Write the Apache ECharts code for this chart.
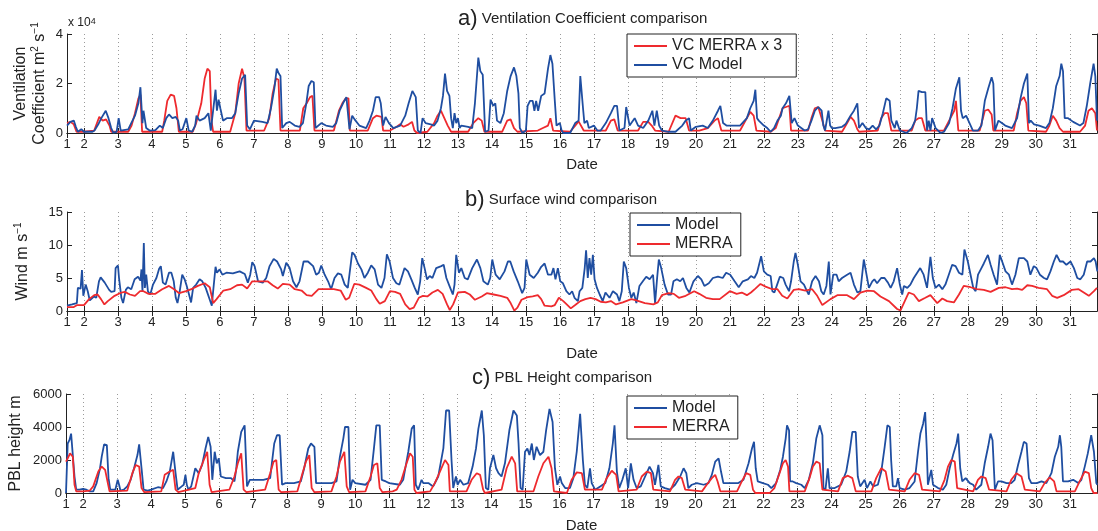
<!DOCTYPE html>
<html>
<head>
<meta charset="utf-8">
<script src="https://cdn.jsdelivr.net/npm/echarts@6/dist/echarts.min.js"></script>
<style>html,body{margin:0;background:#fff}#main{width:1098px;height:531px}</style>
</head>
<body>
<div id="main"></div>
<script>
// x tick positions (day of month); first tick sits at the axis start and is labelled "1"
var xTicks = [1.5,2,3,4,5,6,7,8,9,10,11,12,13,14,15,16,17,18,19,20,21,22,23,24,25,26,27,28,29,30,31];

// a) ventilation coefficient, units of 10^4 m2 s-1, [day, value]
var vcModel = [[1.5,0.3],[1.6,0.45],[1.7,0.5],[1.76,0.25],[1.82,0.05],[1.92,0.15],[2.0,0.05],[2.25,0.05],[2.31,0.1],[2.42,0.35],[2.51,0.6],[2.64,0.9],[2.72,0.6],[2.8,0.2],[2.86,0.02],[2.96,0.05],[3.02,0.6],[3.08,0.1],[3.3,0.15],[3.39,0.4],[3.5,0.7],[3.6,1.2],[3.66,1.85],[3.72,0.4],[3.75,0.9],[3.83,0.2],[3.93,0.1],[4.1,0.12],[4.23,0.3],[4.32,0.2],[4.42,0.6],[4.5,0.75],[4.6,0.6],[4.7,0.65],[4.77,0.5],[4.82,0.1],[4.9,0.15],[5.01,0.6],[5.08,0.1],[5.18,0.05],[5.27,0.3],[5.31,0.7],[5.4,0.5],[5.55,0.6],[5.66,0.8],[5.73,0.1],[5.87,1.75],[5.91,0.9],[5.96,1.35],[6.01,1.0],[6.09,0.5],[6.2,0.6],[6.35,0.6],[6.45,0.8],[6.55,1.6],[6.65,2.2],[6.74,2.35],[6.8,0.3],[6.88,0.15],[7.0,0.5],[7.05,0.55],[7.25,0.45],[7.4,0.4],[7.5,1.0],[7.6,1.8],[7.67,2.6],[7.73,2.4],[7.78,2.3],[7.83,0.2],[7.95,0.4],[8.05,0.45],[8.2,0.3],[8.34,0.25],[8.44,0.4],[8.54,1.2],[8.61,1.9],[8.69,2.1],[8.76,2.05],[8.81,0.2],[8.98,0.4],[9.12,0.3],[9.32,0.25],[9.42,0.4],[9.52,0.9],[9.62,1.2],[9.72,1.45],[9.77,1.5],[9.81,0.15],[9.89,0.7],[9.96,0.55],[10.1,0.3],[10.3,0.2],[10.4,0.5],[10.5,0.9],[10.58,1.45],[10.68,1.45],[10.73,1.2],[10.8,0.3],[10.87,0.65],[10.97,0.4],[11.1,0.2],[11.3,0.3],[11.45,0.7],[11.55,1.2],[11.66,1.7],[11.76,1.45],[11.82,0.1],[11.9,0.0],[11.96,0.6],[12.05,0.4],[12.2,0.35],[12.3,0.3],[12.4,0.5],[12.5,1.0],[12.56,1.5],[12.62,2.4],[12.68,1.7],[12.75,1.5],[12.8,0.6],[12.85,0.2],[12.9,0.8],[12.95,0.4],[13.0,0.6],[13.05,0.2],[13.1,0.3],[13.3,0.25],[13.42,0.2],[13.5,1.2],[13.6,3.05],[13.66,2.5],[13.73,2.35],[13.8,0.05],[13.9,0.1],[13.96,1.35],[14.04,1.1],[14.1,1.2],[14.15,0.5],[14.25,0.4],[14.35,0.8],[14.45,1.7],[14.55,2.3],[14.65,2.65],[14.72,2.3],[14.78,1.6],[14.82,0.2],[14.9,0.0],[15.0,0.1],[15.05,1.1],[15.12,1.3],[15.2,1.3],[15.25,0.9],[15.3,1.3],[15.36,0.9],[15.45,1.5],[15.55,1.6],[15.65,2.6],[15.72,3.15],[15.78,2.8],[15.85,1.3],[15.9,0.3],[16.0,0.4],[16.05,0.1],[16.1,0.0],[16.3,0.0],[16.45,0.4],[16.55,0.5],[16.6,2.3],[16.68,1.0],[16.72,0.4],[16.8,0.5],[16.85,0.2],[17.0,0.3],[17.1,0.1],[17.2,0.1],[17.35,0.4],[17.5,0.8],[17.6,1.1],[17.68,1.1],[17.75,0.1],[17.9,0.2],[17.95,1.05],[18.05,0.3],[18.2,0.6],[18.3,0.3],[18.45,0.2],[18.6,0.5],[18.72,0.9],[18.78,0.3],[18.85,0.9],[18.92,0.3],[19.0,0.1],[19.2,0.05],[19.4,0.05],[19.6,0.3],[19.7,0.5],[19.8,0.6],[19.85,0.1],[20.0,0.25],[20.2,0.3],[20.35,0.2],[20.5,0.5],[20.65,0.9],[20.72,1.1],[20.8,0.4],[20.9,0.3],[21.1,0.3],[21.3,0.3],[21.5,0.6],[21.6,1.0],[21.7,1.3],[21.75,1.75],[21.8,0.6],[21.85,0.5],[21.9,0.5],[22.0,0.3],[22.1,0.2],[22.2,0.05],[22.3,0.2],[22.4,0.5],[22.5,0.7],[22.55,1.0],[22.65,1.2],[22.75,1.5],[22.82,0.4],[22.9,0.6],[23.0,0.3],[23.1,0.2],[23.2,0.1],[23.3,0.15],[23.4,0.5],[23.5,0.9],[23.6,1.05],[23.7,0.9],[23.75,0.3],[23.8,0.1],[23.9,0.9],[23.95,0.3],[24.0,0.2],[24.1,0.2],[24.3,0.25],[24.4,0.35],[24.55,0.7],[24.65,0.9],[24.75,1.2],[24.8,0.2],[24.9,0.4],[25.0,0.2],[25.1,0.15],[25.2,0.3],[25.3,0.15],[25.4,0.3],[25.5,0.8],[25.6,1.4],[25.7,1.3],[25.75,0.5],[25.85,0.2],[25.9,0.5],[26.0,0.1],[26.2,0.0],[26.35,0.2],[26.45,0.5],[26.5,1.0],[26.55,1.7],[26.65,1.65],[26.75,1.65],[26.8,0.1],[26.85,0.5],[26.9,0.1],[26.95,0.6],[27.05,0.2],[27.2,0.0],[27.3,0.05],[27.45,0.4],[27.55,1.0],[27.65,1.8],[27.75,2.25],[27.8,0.9],[27.85,0.6],[27.95,0.7],[28.05,0.4],[28.15,0.1],[28.3,0.1],[28.4,0.3],[28.5,1.3],[28.6,1.8],[28.7,2.25],[28.75,2.0],[28.8,0.1],[28.9,0.5],[29.0,0.4],[29.1,0.3],[29.3,0.2],[29.45,0.6],[29.55,1.4],[29.65,2.0],[29.75,2.4],[29.8,0.4],[29.85,0.5],[29.95,0.35],[30.1,0.3],[30.3,0.2],[30.4,0.4],[30.5,1.0],[30.6,1.9],[30.7,2.3],[30.75,2.8],[30.8,2.5],[30.85,0.6],[30.95,0.6],[31.1,0.45],[31.3,0.3],[31.4,0.4],[31.5,1.1],[31.6,2.0],[31.7,2.8],[31.75,2.3],[31.8,0.5]];

var vcMerra = [[1.5,0.4],[1.6,0.45],[1.7,0.35],[1.78,0.05],[2.0,0.05],[2.3,0.1],[2.45,0.65],[2.55,0.5],[2.65,0.55],[2.75,0.3],[2.8,0.05],[3.3,0.05],[3.4,0.3],[3.5,0.8],[3.6,1.4],[3.66,1.55],[3.71,0.05],[4.3,0.05],[4.36,0.5],[4.45,1.3],[4.55,1.55],[4.65,1.5],[4.72,1.0],[4.79,0.05],[5.2,0.05],[5.3,0.4],[5.45,1.2],[5.55,2.2],[5.63,2.6],[5.7,2.5],[5.75,0.5],[5.8,0.05],[6.3,0.05],[6.45,0.8],[6.55,2.0],[6.65,2.6],[6.72,2.2],[6.78,0.1],[7.3,0.1],[7.45,0.6],[7.55,1.6],[7.65,2.2],[7.72,2.15],[7.78,0.1],[8.35,0.1],[8.45,1.0],[8.55,1.2],[8.65,1.45],[8.72,1.5],[8.78,0.1],[9.35,0.1],[9.5,0.9],[9.6,1.2],[9.7,1.4],[9.78,1.4],[9.82,0.1],[10.35,0.1],[10.5,0.6],[10.6,0.7],[10.75,0.65],[10.8,0.1],[11.0,0.1],[11.2,0.25],[11.3,0.35],[11.4,0.25],[11.55,0.35],[11.65,0.45],[11.72,0.1],[11.8,0.0],[12.1,0.05],[12.3,0.4],[12.4,0.7],[12.5,0.9],[12.6,0.6],[12.7,0.3],[12.8,0.05],[13.3,0.05],[13.45,0.4],[13.6,0.6],[13.7,0.5],[13.78,0.05],[14.3,0.05],[14.45,0.5],[14.55,0.55],[14.65,0.2],[14.75,0.05],[15.35,0.1],[15.5,0.2],[15.65,0.3],[15.72,0.6],[15.8,0.1],[16.3,0.05],[16.45,0.3],[16.55,0.47],[16.7,0.1],[17.35,0.1],[17.5,0.5],[17.6,0.55],[17.7,0.1],[18.3,0.1],[18.45,0.45],[18.6,0.45],[18.7,0.3],[18.8,0.1],[19.2,0.05],[19.4,0.7],[19.55,0.6],[19.7,0.6],[19.8,0.1],[20.1,0.1],[20.35,0.2],[20.55,0.5],[20.65,0.6],[20.75,0.1],[21.3,0.1],[21.5,0.6],[21.6,0.85],[21.7,0.7],[21.78,0.1],[22.2,0.05],[22.35,0.2],[22.45,0.6],[22.55,1.0],[22.65,1.05],[22.75,1.1],[22.8,0.1],[23.3,0.1],[23.4,0.6],[23.5,1.0],[23.6,1.05],[23.7,0.6],[23.8,0.1],[24.3,0.05],[24.45,0.4],[24.55,0.65],[24.65,0.5],[24.75,0.15],[24.8,0.05],[25.35,0.1],[25.45,0.6],[25.55,0.8],[25.65,0.8],[25.75,0.1],[26.35,0.1],[26.45,0.5],[26.55,0.6],[26.65,0.6],[26.75,0.1],[27.3,0.1],[27.45,0.5],[27.6,0.9],[27.65,1.3],[27.72,0.1],[28.35,0.1],[28.5,0.9],[28.6,0.95],[28.7,0.75],[28.75,0.1],[29.35,0.1],[29.45,0.8],[29.55,1.3],[29.65,1.45],[29.72,1.2],[29.78,0.1],[30.3,0.05],[30.4,0.3],[30.5,0.7],[30.6,0.5],[30.7,0.2],[30.8,0.05],[31.3,0.05],[31.45,0.3],[31.55,0.9],[31.65,1.0],[31.75,0.8],[31.8,0.1]];

// b) surface wind, m s-1
var windModel = [[1.5,0.8],[1.65,1.0],[1.79,1.2],[1.82,3.5],[1.9,3.4],[1.94,6.2],[1.98,2.3],[2.05,4.0],[2.11,3.0],[2.17,1.6],[2.29,2.2],[2.36,2.0],[2.44,4.5],[2.49,5.1],[2.61,4.3],[2.74,3.2],[2.8,2.9],[2.9,3.0],[2.93,6.5],[3.0,6.9],[3.03,5.0],[3.1,2.0],[3.15,1.2],[3.23,3.2],[3.29,3.6],[3.39,3.3],[3.49,4.8],[3.59,5.2],[3.66,4.6],[3.69,6.3],[3.72,3.0],[3.76,10.3],[3.79,3.5],[3.83,5.5],[3.88,3.0],[3.95,2.5],[4.03,4.0],[4.13,5.0],[4.21,6.4],[4.26,6.8],[4.32,4.3],[4.4,4.0],[4.5,5.8],[4.57,5.8],[4.64,4.5],[4.7,2.0],[4.75,1.2],[4.81,2.8],[4.89,5.5],[4.96,4.8],[5.01,4.0],[5.09,2.5],[5.15,1.3],[5.21,3.5],[5.3,4.0],[5.4,4.8],[5.48,4.5],[5.58,3.5],[5.68,2.0],[5.76,0.8],[5.79,2.5],[5.87,6.7],[5.91,5.8],[5.99,6.3],[6.07,5.5],[6.19,5.8],[6.38,5.7],[6.58,6.0],[6.73,5.6],[6.82,4.3],[6.89,5.5],[6.95,7.4],[7.02,6.8],[7.12,4.5],[7.26,4.3],[7.36,5.0],[7.46,6.8],[7.58,7.9],[7.68,7.5],[7.8,6.3],[7.85,5.3],[7.95,7.3],[8.05,6.5],[8.15,4.5],[8.25,3.6],[8.34,4.5],[8.46,7.5],[8.59,7.5],[8.74,6.8],[8.83,5.5],[8.91,5.8],[8.98,6.9],[9.08,5.5],[9.18,4.5],[9.27,3.3],[9.37,5.0],[9.47,5.7],[9.57,5.5],[9.67,4.0],[9.76,3.5],[9.89,8.9],[9.96,8.5],[10.06,7.2],[10.16,6.3],[10.25,5.0],[10.35,5.8],[10.45,6.9],[10.55,6.3],[10.65,4.0],[10.75,3.5],[10.84,5.0],[10.91,8.6],[10.99,7.5],[11.09,5.0],[11.19,4.2],[11.28,4.0],[11.43,6.5],[11.53,6.0],[11.63,4.8],[11.73,3.5],[11.82,2.5],[11.89,4.5],[11.95,8.0],[12.02,6.5],[12.09,4.8],[12.17,5.3],[12.25,5.0],[12.36,6.5],[12.51,6.8],[12.58,7.0],[12.66,5.0],[12.75,3.8],[12.85,2.5],[12.9,4.0],[12.95,8.5],[13.03,5.8],[13.1,6.5],[13.2,5.0],[13.29,4.8],[13.42,6.5],[13.56,7.8],[13.66,6.5],[13.75,4.5],[13.88,4.0],[13.95,5.0],[14.01,7.8],[14.11,5.5],[14.23,4.8],[14.37,6.0],[14.47,7.5],[14.54,7.5],[14.64,6.0],[14.76,4.5],[14.89,2.7],[14.96,3.5],[15.01,7.8],[15.11,5.5],[15.23,5.0],[15.35,5.8],[15.45,6.7],[15.55,7.2],[15.65,5.5],[15.75,5.5],[15.81,6.5],[15.87,4.8],[15.94,6.5],[16.01,4.5],[16.09,4.2],[16.19,3.0],[16.28,2.5],[16.36,3.0],[16.43,2.0],[16.53,1.5],[16.58,3.0],[16.66,3.5],[16.73,6.5],[16.77,9.2],[16.82,5.0],[16.87,8.0],[16.92,5.5],[16.97,8.5],[17.02,4.8],[17.09,3.5],[17.17,2.5],[17.26,1.5],[17.34,2.8],[17.46,2.0],[17.56,3.0],[17.68,2.5],[17.75,1.5],[17.82,3.0],[17.88,7.5],[17.95,6.5],[18.03,3.5],[18.1,2.0],[18.17,2.8],[18.25,1.2],[18.34,3.8],[18.44,4.5],[18.54,5.2],[18.64,4.8],[18.74,5.5],[18.8,1.2],[18.86,5.0],[18.91,7.8],[18.98,6.5],[19.08,4.0],[19.18,2.5],[19.27,2.5],[19.34,4.5],[19.44,4.8],[19.54,4.5],[19.62,5.0],[19.72,3.5],[19.81,2.8],[19.93,4.5],[20.06,5.3],[20.16,4.8],[20.25,3.8],[20.38,4.2],[20.5,5.0],[20.65,5.2],[20.79,5.0],[20.89,5.8],[21.01,5.5],[21.14,4.5],[21.26,3.6],[21.38,4.5],[21.53,4.8],[21.62,5.3],[21.72,5.0],[21.8,5.8],[21.92,8.3],[22.0,6.0],[22.1,5.5],[22.2,5.3],[22.25,3.0],[22.31,2.8],[22.39,4.0],[22.47,5.2],[22.57,5.0],[22.64,4.0],[22.74,3.0],[22.8,4.5],[22.88,7.5],[22.93,8.8],[23.0,7.0],[23.08,4.5],[23.18,4.0],[23.25,3.2],[23.32,2.5],[23.42,4.5],[23.52,5.3],[23.62,4.5],[23.69,3.0],[23.76,2.5],[23.84,3.8],[23.91,7.5],[23.96,2.5],[24.04,5.5],[24.14,5.5],[24.2,4.5],[24.3,5.0],[24.45,5.5],[24.55,5.8],[24.65,4.0],[24.75,2.8],[24.84,3.0],[24.94,7.8],[25.02,5.5],[25.09,3.5],[25.19,4.5],[25.25,4.8],[25.33,4.2],[25.45,5.0],[25.55,5.0],[25.65,4.3],[25.73,3.5],[25.82,4.5],[25.92,6.5],[26.0,4.0],[26.07,2.5],[26.12,3.8],[26.22,3.5],[26.31,4.0],[26.41,5.0],[26.51,5.8],[26.6,6.5],[26.7,5.5],[26.8,3.5],[26.85,3.5],[26.9,8.2],[26.97,5.0],[27.05,3.5],[27.15,4.0],[27.25,3.3],[27.34,4.0],[27.44,5.5],[27.54,7.0],[27.64,6.8],[27.74,5.8],[27.84,5.5],[27.9,9.3],[28.0,7.5],[28.08,5.5],[28.16,3.5],[28.23,3.0],[28.3,5.5],[28.4,6.5],[28.47,7.2],[28.59,8.5],[28.67,7.0],[28.76,5.5],[28.86,4.0],[28.94,8.5],[29.01,7.5],[29.11,6.0],[29.21,5.5],[29.3,4.0],[29.4,5.5],[29.5,8.0],[29.65,8.0],[29.75,7.5],[29.84,5.5],[29.94,6.8],[30.02,6.5],[30.12,5.5],[30.24,5.0],[30.33,4.8],[30.43,6.0],[30.53,7.5],[30.61,8.5],[30.71,7.5],[30.8,7.5],[30.9,7.0],[31.02,7.5],[31.12,6.5],[31.22,5.0],[31.31,4.8],[31.41,5.5],[31.51,7.5],[31.61,7.5],[31.71,8.0],[31.76,7.5],[31.81,6.0]];

var windMerra = [[1.5,0.6],[1.7,0.6],[1.8,0.9],[2.0,0.9],[2.15,1.8],[2.3,2.4],[2.4,2.5],[2.5,1.8],[2.6,1.0],[2.7,1.5],[2.9,2.3],[3.1,2.8],[3.2,2.9],[3.35,2.5],[3.5,2.3],[3.65,3.0],[3.75,3.0],[3.9,2.6],[4.1,2.6],[4.3,3.3],[4.5,3.8],[4.65,3.3],[4.8,2.7],[5.0,3.0],[5.2,3.4],[5.35,3.8],[5.55,4.2],[5.7,3.6],[5.8,1.2],[5.9,1.8],[6.1,3.1],[6.3,3.3],[6.5,3.9],[6.65,4.0],[6.8,3.4],[6.95,4.5],[7.2,4.5],[7.4,4.5],[7.55,3.9],[7.7,3.4],[7.85,4.1],[8.05,4.0],[8.2,3.3],[8.4,3.1],[8.55,2.4],[8.7,2.3],[8.9,3.3],[9.1,3.3],[9.35,3.3],[9.55,3.1],[9.7,1.7],[9.8,2.0],[9.95,4.1],[10.1,4.0],[10.3,3.5],[10.45,3.1],[10.6,1.8],[10.7,1.1],[10.85,1.5],[11.0,3.0],[11.15,2.9],[11.3,2.6],[11.45,1.0],[11.58,0.3],[11.7,0.5],[11.85,2.0],[11.97,2.3],[12.1,2.2],[12.25,2.8],[12.41,3.2],[12.55,2.6],[12.68,1.0],[12.76,0.15],[12.86,1.0],[13.0,2.8],[13.2,2.9],[13.35,2.5],[13.5,1.7],[13.7,2.2],[13.85,2.7],[14.05,2.5],[14.25,2.3],[14.45,2.0],[14.55,1.2],[14.66,0.05],[14.75,0.5],[14.87,1.7],[15.05,2.1],[15.2,2.2],[15.35,2.4],[15.45,1.8],[15.55,0.8],[15.75,0.7],[15.85,0.9],[15.97,2.0],[16.1,1.5],[16.2,1.0],[16.32,0.4],[16.45,0.9],[16.6,1.5],[16.75,1.8],[16.9,2.0],[17.05,1.8],[17.2,1.4],[17.35,1.3],[17.5,1.5],[17.65,1.0],[17.85,1.3],[18.1,1.8],[18.25,1.6],[18.5,1.2],[18.75,1.0],[18.88,1.3],[19.0,2.4],[19.2,2.7],[19.35,2.6],[19.5,2.0],[19.7,2.3],[19.95,3.0],[20.1,2.6],[20.3,2.0],[20.5,1.8],[20.7,1.8],[21.0,3.0],[21.2,2.6],[21.35,2.8],[21.5,2.4],[21.62,2.8],[21.75,3.4],[21.9,4.1],[22.05,3.7],[22.25,3.3],[22.4,3.3],[22.54,2.3],[22.69,1.9],[22.88,3.2],[23.03,3.3],[23.22,3.1],[23.42,3.3],[23.57,2.3],[23.72,0.9],[23.96,1.8],[24.16,2.4],[24.45,2.4],[24.65,1.8],[24.84,2.8],[25.04,3.1],[25.24,3.0],[25.43,2.2],[25.68,1.5],[25.92,0.3],[26.02,0.1],[26.26,2.8],[26.41,2.5],[26.56,1.5],[26.75,2.0],[26.9,2.4],[27.1,1.2],[27.25,1.9],[27.39,1.5],[27.59,1.3],[27.74,2.5],[27.88,3.8],[28.08,3.6],[28.27,3.3],[28.47,3.2],[28.67,2.9],[28.91,3.5],[29.11,3.6],[29.3,3.3],[29.45,3.4],[29.6,3.2],[29.75,3.9],[29.89,3.8],[30.08,3.5],[30.33,3.3],[30.48,2.3],[30.63,2.0],[30.82,2.4],[31.06,3.2],[31.26,3.3],[31.41,2.8],[31.56,2.3],[31.71,3.0],[31.8,3.5]];

// c) PBL height, m
var pblModel = [[1.5,0],[1.55,3000],[1.6,3200],[1.65,3600],[1.7,3500],[1.75,1000],[1.8,200],[1.9,200],[2.0,250],[2.1,200],[2.2,100],[2.3,100],[2.4,600],[2.5,1500],[2.55,2200],[2.62,2950],[2.7,2900],[2.75,900],[2.8,200],[2.95,200],[3.02,800],[3.06,500],[3.1,150],[3.2,200],[3.3,400],[3.4,800],[3.5,1500],[3.6,2300],[3.65,2950],[3.72,1500],[3.78,200],[3.9,150],[4.0,200],[4.2,350],[4.35,300],[4.45,700],[4.55,1300],[4.65,2500],[4.72,1200],[4.78,200],[4.9,400],[4.96,500],[5.01,1100],[5.05,500],[5.1,200],[5.18,400],[5.3,1500],[5.4,1200],[5.5,1700],[5.6,2700],[5.68,3400],[5.75,2800],[5.8,800],[5.84,900],[5.87,2500],[5.93,1800],[5.99,2100],[6.05,1000],[6.2,900],[6.35,900],[6.45,700],[6.5,1400],[6.55,2500],[6.65,3700],[6.75,4100],[6.78,2500],[6.82,400],[6.9,800],[7.0,800],[7.3,800],[7.5,900],[7.55,1800],[7.62,3000],[7.7,3500],[7.78,3500],[7.85,500],[7.95,600],[8.2,600],[8.4,700],[8.5,1500],[8.62,2700],[8.7,3000],[8.8,2800],[8.85,600],[9.0,600],[9.3,600],[9.45,700],[9.55,2200],[9.65,3300],[9.7,4000],[9.8,4000],[9.85,200],[9.92,800],[10.0,600],[10.3,500],[10.45,800],[10.55,2700],[10.62,4100],[10.72,4100],[10.78,800],[10.9,700],[11.0,600],[11.31,500],[11.41,800],[11.56,2500],[11.66,3900],[11.73,4100],[11.78,500],[11.85,200],[11.95,800],[12.0,600],[12.15,600],[12.29,400],[12.44,1000],[12.59,2700],[12.67,5000],[12.76,5000],[12.83,2000],[12.88,300],[12.96,1000],[13.01,500],[13.08,800],[13.18,500],[13.32,600],[13.45,1600],[13.55,2700],[13.62,3900],[13.72,5000],[13.78,3500],[13.84,300],[13.91,200],[13.96,1500],[14.06,2300],[14.14,1500],[14.21,1200],[14.3,1000],[14.4,1800],[14.53,3800],[14.65,5000],[14.75,4700],[14.8,3000],[14.86,300],[14.92,200],[14.99,2500],[15.06,2700],[15.12,2300],[15.19,3000],[15.25,2000],[15.33,2800],[15.43,2300],[15.53,2500],[15.61,3800],[15.71,5100],[15.8,4300],[15.87,1500],[15.94,500],[16.02,1000],[16.07,600],[16.17,300],[16.31,300],[16.41,900],[16.51,2500],[16.61,4800],[16.69,2000],[16.75,500],[16.82,300],[16.9,1500],[16.95,600],[17.05,200],[17.2,400],[17.35,600],[17.47,1500],[17.57,3000],[17.62,4100],[17.69,1300],[17.76,300],[17.85,800],[17.95,1500],[18.02,300],[18.1,1800],[18.18,800],[18.27,300],[18.39,400],[18.52,1000],[18.65,1600],[18.75,1200],[18.81,500],[18.91,1700],[18.98,400],[19.1,300],[19.25,200],[19.4,500],[19.55,1000],[19.65,1500],[19.73,1200],[19.79,300],[19.89,500],[20.04,600],[20.24,500],[20.38,600],[20.48,1100],[20.58,1900],[20.68,2100],[20.75,1300],[20.82,600],[21.02,600],[21.26,600],[21.41,800],[21.56,1800],[21.66,2700],[21.72,3100],[21.77,1500],[21.83,700],[21.98,600],[22.13,500],[22.23,300],[22.37,600],[22.49,1400],[22.57,2200],[22.65,3300],[22.69,4100],[22.75,3800],[22.78,700],[22.86,700],[22.96,600],[23.11,500],[23.21,300],[23.33,800],[23.45,1800],[23.55,3300],[23.65,4100],[23.73,3500],[23.76,300],[23.82,200],[23.89,1500],[23.94,300],[24.09,300],[24.28,500],[24.43,1300],[24.53,2500],[24.61,3700],[24.71,3700],[24.77,1000],[24.84,400],[24.97,800],[25.04,300],[25.14,700],[25.22,400],[25.36,500],[25.46,1300],[25.56,2800],[25.64,4100],[25.71,4000],[25.75,2000],[25.8,400],[25.9,400],[25.95,900],[26.0,300],[26.15,200],[26.29,300],[26.44,700],[26.54,2500],[26.61,3600],[26.69,4200],[26.75,4900],[26.8,2500],[26.83,500],[26.88,400],[26.93,1400],[26.98,500],[27.13,300],[27.27,200],[27.37,500],[27.47,1500],[27.57,2300],[27.67,3000],[27.72,3600],[27.78,1500],[27.84,700],[27.94,900],[28.06,600],[28.16,500],[28.25,200],[28.4,500],[28.5,1800],[28.6,2800],[28.67,3600],[28.73,3200],[28.8,200],[28.89,700],[28.99,700],[29.14,600],[29.28,600],[29.38,800],[29.48,1700],[29.58,2500],[29.65,3100],[29.73,3000],[29.8,900],[29.87,600],[30.03,600],[30.17,700],[30.31,600],[30.46,1200],[30.56,2200],[30.66,2800],[30.71,3500],[30.75,2800],[30.8,700],[30.95,700],[31.1,800],[31.25,600],[31.34,800],[31.44,1600],[31.53,2400],[31.63,3500],[31.71,2500],[31.78,600],[31.81,500]];

var pblMerra = [[1.5,1900],[1.55,2100],[1.62,2400],[1.7,2200],[1.75,500],[1.8,100],[2.0,100],[2.2,150],[2.3,400],[2.45,1300],[2.55,1600],[2.65,1400],[2.72,700],[2.78,100],[3.3,150],[3.45,1200],[3.55,1700],[3.65,1600],[3.72,300],[3.8,50],[4.3,100],[4.4,1100],[4.55,1300],[4.65,1400],[4.72,200],[4.8,50],[5.3,300],[5.4,1200],[5.55,2000],[5.65,2500],[5.72,500],[5.78,50],[6.3,200],[6.45,1000],[6.55,1800],[6.65,2400],[6.72,200],[6.8,50],[7.35,200],[7.5,1200],[7.6,1900],[7.68,2000],[7.75,200],[7.82,50],[8.3,100],[8.45,1200],[8.55,1900],[8.65,2300],[8.72,300],[8.8,50],[9.3,100],[9.45,1000],[9.55,1900],[9.68,2500],[9.75,400],[9.82,50],[10.3,100],[10.45,1000],[10.55,1700],[10.65,1800],[10.72,300],[10.8,50],[11.1,100],[11.22,200],[11.36,800],[11.51,1800],[11.61,2400],[11.69,2200],[11.74,200],[11.8,0],[12.2,100],[12.34,600],[12.49,1300],[12.64,2000],[12.74,1700],[12.78,100],[13.27,100],[13.42,800],[13.57,1200],[13.67,1100],[13.76,200],[13.81,0],[14.3,200],[14.45,1500],[14.6,2200],[14.7,1800],[14.76,100],[15.24,100],[15.38,1000],[15.53,1800],[15.68,2200],[15.77,1500],[15.84,100],[16.22,0],[16.36,800],[16.51,1250],[16.66,1200],[16.75,200],[17.25,200],[17.39,900],[17.54,1350],[17.67,1100],[17.74,100],[18.27,200],[18.42,1000],[18.57,1300],[18.69,1200],[18.76,200],[19.25,100],[19.4,800],[19.5,1000],[19.6,900],[19.7,200],[20.19,100],[20.33,500],[20.48,900],[20.58,1100],[20.65,700],[20.73,100],[21.22,100],[21.36,700],[21.49,1200],[21.61,1100],[21.69,200],[21.76,0],[22.18,0],[22.32,300],[22.47,1200],[22.57,1800],[22.65,2000],[22.72,1600],[22.76,100],[23.21,100],[23.35,900],[23.45,1600],[23.55,1900],[23.65,1800],[23.73,200],[24.19,100],[24.33,900],[24.48,1050],[24.61,900],[24.71,100],[25.17,100],[25.31,900],[25.46,1500],[25.59,1300],[25.69,200],[26.15,100],[26.29,800],[26.44,1200],[26.57,1100],[26.66,200],[27.18,100],[27.32,800],[27.42,1600],[27.52,2000],[27.62,1900],[27.69,300],[28.16,100],[28.3,800],[28.4,1000],[28.53,900],[28.63,200],[29.14,100],[29.28,800],[29.43,1200],[29.58,1000],[29.68,200],[30.12,100],[30.26,600],[30.41,950],[30.54,700],[30.61,100],[31.15,100],[31.29,700],[31.44,1300],[31.56,1200],[31.63,300],[31.7,0],[31.81,0]];

var FONT = '"Liberation Sans", Arial, Helvetica, sans-serif';
var BLUE = '#1f4ea1', RED = '#ee2a2e', INK = '#222';
var chart = echarts.init(document.getElementById('main'));

var grids = [
  {left: 67, right: 1, top: 34, height: 99, outerBoundsMode: 'none'},
  {left: 67, right: 1, top: 212, height: 99, outerBoundsMode: 'none'},
  {left: 66, right: 1, top: 394, height: 99, outerBoundsMode: 'none'}
];

var xAxis = [], yAxis = [];
var yDefs = [
  {max: 4, interval: 2, name: 'Ventilation\nCoefficient m{s|2} s{s|\u22121}', gap: 18, dateGap: 24},
  {max: 15, interval: 5, name: 'Wind m s{s|\u22121}', gap: 35, dateGap: 35},
  {max: 6000, interval: 2000, name: 'PBL height m', gap: 41, dateGap: 25}
];
for (var i = 0; i < 3; i++) {
  var d = yDefs[i];
  xAxis.push({
    gridIndex: i, type: 'value', min: 1.5, max: 31.8, position: 'bottom',
    axisLine: {lineStyle: {color: INK, width: 1}},
    axisTick: {inside: true, length: 5, customValues: xTicks, lineStyle: {color: INK}},
    axisLabel: {customValues: xTicks, fontSize: 13, color: INK, fontFamily: FONT, margin: 5,
      formatter: function (v) { return v === 1.5 ? '1' : String(v); }},
    splitLine: {show: true, lineStyle: {type: [1, 3], color: '#9a9a9a', width: 1}},
    name: 'Date', nameLocation: 'middle', nameGap: d.dateGap, nameMoveOverlap: false,
    nameTextStyle: {fontSize: 15, color: INK, fontFamily: FONT}
  });
  xAxis.push({
    gridIndex: i, type: 'value', min: 1.5, max: 31.8, position: 'top',
    axisLine: {lineStyle: {color: INK, width: 1}},
    axisTick: {inside: true, length: 5, customValues: xTicks, lineStyle: {color: INK}},
    axisLabel: {show: false}, splitLine: {show: false}
  });
  yAxis.push({
    gridIndex: i, type: 'value', min: 0, max: d.max, interval: d.interval, position: 'left',
    axisLine: {show: true, lineStyle: {color: INK, width: 1}},
    axisTick: {show: true, inside: true, length: 5, lineStyle: {color: INK}},
    axisLabel: {fontSize: 13, color: INK, fontFamily: FONT, margin: 4,
      formatter: function (v) { return String(v); }},
    splitLine: {show: false},
    name: d.name, nameLocation: 'middle', nameGap: d.gap, nameRotate: 90, nameMoveOverlap: false,
    nameTextStyle: {fontSize: 16, lineHeight: 19, color: INK, fontFamily: FONT,
      rich: {s: {fontSize: 10, verticalAlign: 'top', color: INK, fontFamily: FONT}}}
  });
  yAxis.push({
    gridIndex: i, type: 'value', min: 0, max: d.max, interval: d.interval, position: 'right',
    axisLine: {show: true, lineStyle: {color: INK, width: 1}},
    axisTick: {show: true, inside: true, length: 5, lineStyle: {color: INK}},
    axisLabel: {show: false}, splitLine: {show: false}
  });
}

function line(name, data, color, g) {
  return {
    name: name, type: 'line', data: data, xAxisIndex: 2 * g, yAxisIndex: 2 * g,
    symbol: 'none', lineStyle: {color: color, width: 1.8}, itemStyle: {color: color},
    animation: false
  };
}

function legend(names, left, top, padRight) {
  return {
    data: names, orient: 'vertical', left: left, top: top,
    icon: 'rect', itemWidth: 33, itemHeight: 2, itemGap: 3,
    padding: [4, padRight, 4, 7],
    borderColor: INK, borderWidth: 1, backgroundColor: '#fff',
    selectedMode: false,
    textStyle: {fontSize: 16, color: INK, fontFamily: FONT}
  };
}

function title(letter, text, left, top) {
  return {
    text: '{b|' + letter + ')} ' + text, left: left, top: top, padding: 0,
    textStyle: {fontSize: 15, fontWeight: 'normal', color: INK, fontFamily: FONT,
      rich: {b: {fontSize: 22, color: INK, fontFamily: FONT}}}
  };
}

chart.setOption({
  animation: false,
  backgroundColor: '#fff',
  title: [
    title('a', 'Ventilation Coefficient comparison', 458, 8),
    title('b', 'Surface wind comparison', 465, 189),
    title('c', 'PBL Height comparison', 472, 367)
  ],
  grid: grids,
  xAxis: xAxis,
  yAxis: yAxis,
  legend: [
    legend(['VC MERRA x 3', 'VC Model'], 627, 34, 14),
    legend(['Model', 'MERRA'], 630, 213, 8),
    legend(['Model', 'MERRA'], 627, 396, 8)
  ],
  graphic: [{
    type: 'text', left: 68, top: 17,
    style: {text: 'x 10{s|4}', fontSize: 12, fill: INK, fontFamily: FONT,
      rich: {s: {fontSize: 9, verticalAlign: 'top', fill: INK, fontFamily: FONT}}}
  }],
  series: [
    line('VC MERRA x 3', vcMerra, RED, 0),
    line('VC Model', vcModel, BLUE, 0),
    line('Model', windModel, BLUE, 1),
    line('MERRA', windMerra, RED, 1),
    line('Model', pblModel, BLUE, 2),
    line('MERRA', pblMerra, RED, 2)
  ]
});
</script>
</body>
</html>
